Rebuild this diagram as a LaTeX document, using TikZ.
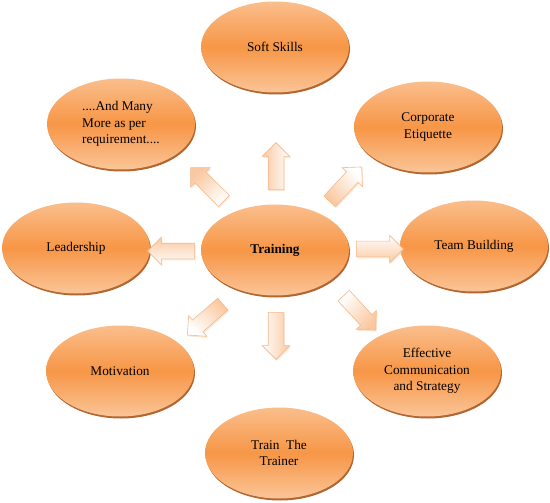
\documentclass[tikz,border=0pt]{standalone}
\usepackage{fontspec}
\setmainfont{Liberation Serif}
\usetikzlibrary{
  shapes.geometric,
  shapes.arrows,
  shadows,
  positioning
}
\definecolor{topic_orange}{RGB}{247, 150, 70}
\definecolor{topic_light}{RGB}{250, 190, 140}
\definecolor{topic_rim}{RGB}{170, 85, 25}
\definecolor{arrow_peach}{RGB}{250, 200, 160}
\definecolor{arrow_edge}{RGB}{245, 185, 140}

\begin{document}
\begin{tikzpicture}[
    x=1pt, y=-1pt,
    % Styles
    font=\fontsize{13.3}{16.7}\selectfont,
    % Ellipses
    topic/.style={
        ellipse,
        minimum width=148pt,
        minimum height=91pt,
        inner sep=0pt,
        align=center,
        top color=topic_light,
        bottom color=topic_light!90,
        middle color=topic_orange,
        drop shadow={shadow xshift=1pt, shadow yshift=-2pt, fill=topic_rim, opacity=0.9}
    },
    hub/.style={
        topic,
        font=\fontsize{13.3}{16.7}\selectfont\bfseries
    },
    % Block arrows
    blockarrow/.style={
        single arrow,
        draw=arrow_edge,
        line width=0.6pt,
        minimum height=47pt,
        single arrow head extend=6pt,
        inner sep=7.5pt,
        rotate=#1,
        top color=white,
        bottom color=arrow_peach,
        shading angle=-#1,
        drop shadow={shadow xshift=1pt, shadow yshift=-1.5pt, fill=arrow_edge, opacity=0.35}
    }
]
\useasboundingbox (0,0) rectangle (550,503);

% --- TOPICS ---

% Centre
\node[hub] (training) at (275,250) {Training};

% Ring (clockwise from top)
\node[topic] (soft) at (275,47) {Soft Skills};
\node[topic] (corporate) at (428,127) {Corporate\\Etiquette};
\node[topic] (team) at (474,246) {Team Building};
\node[topic] (effective) at (427,371) {Effective\\Communication\\and Strategy};
\node[topic] (trainer) at (279,453) {Train\ \ The\\Trainer};
\node[topic] (motivation) at (120,371) {Motivation};
\node[topic] (leadership) at (76,248) {Leadership};
\node[topic, align=left] (more) at (121,124) {....And Many\\More as per\\requirement....};

% --- ARROWS ---
\node[blockarrow=90] (to_soft) at (276,170) {};
\node[blockarrow=47] (to_corporate) at (343,187) {};
\node[blockarrow=0] (to_team) at (376,249) {};
\node[blockarrow=-47] (to_effective) at (357,310) {};
\node[blockarrow=-90] (to_trainer) at (276,332) {};
\node[blockarrow=221] (to_motivation) at (208,317) {};
\node[blockarrow=180] (to_leadership) at (175,251) {};
\node[blockarrow=135] (to_more) at (210,187) {};

\end{tikzpicture}
\end{document}
